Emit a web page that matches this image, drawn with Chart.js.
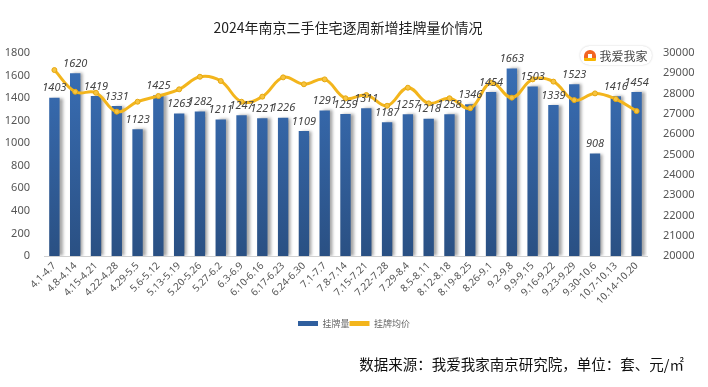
<!DOCTYPE html>
<html lang="zh-CN">
<head>
<meta charset="UTF-8">
<title>2024年南京二手住宅逐周新增挂牌量价情况</title>
<script src="https://cdn.jsdelivr.net/npm/chart.js"></script>
<style>
    body { margin: 0; background: #fff; font-family: "Noto Sans CJK SC", "Noto Sans", sans-serif; }
    .wrap { position: relative; width: 708px; height: 387px; }
    .titulo { position: absolute; left: -6px; top: 17px; width: 708px; text-align: center; font-size: 14px; color: #222; }
    .fonte { position: absolute; right: 24px; top: 353px; font-size: 14.5px; color: #111; }
    .logo { position: absolute; left: 580px; top: 46px; width: 72px; height: 19px; border-radius: 10px; box-sizing: border-box;
            background: #fff; box-shadow: 0 0 2px #ccc; display: flex; align-items: center; justify-content: center;
            font-size: 12px; color: #444; }
    .logo i { display: inline-block; width: 12px; height: 11px; border-radius: 6px 6px 1px 1px; background: #f26522;
              border-bottom: 3px solid #f7b500; box-sizing: border-box; margin-right: 3px; position: relative; }
    .logo i::after { content: ''; position: absolute; left: 4px; top: 4px; width: 4px; height: 4px; background: #fff; }
    canvas { position: absolute; left: 0; top: 0; }
</style>
</head>
<body>
<div class="wrap">
    <canvas id="grafico" width="708" height="387"></canvas>
    <div class="titulo">2024年南京二手住宅逐周新增挂牌量价情况</div>
    <div class="logo"><i></i>我爱我家</div>
    <div class="fonte">数据来源：我爱我家南京研究院，单位：套、元/㎡</div>
</div>

<script>
    // semanas
    const semanas = ['4.1-4.7', '4.8-4.14', '4.15-4.21', '4.22-4.28', '4.29-5.5', '5.6-5.12', '5.13-5.19', '5.20-5.26',
        '5.27-6.2', '6.3-6.9', '6.10-6.16', '6.17-6.23', '6.24-6.30', '7.1-7.7', '7.8-7.14', '7.15-7.21', '7.22-7.28',
        '7.29-8.4', '8.5-8.11', '8.12-8.18', '8.19-8.25', '8.26-9.1', '9.2-9.8', '9.9-9.15', '9.16-9.22', '9.23-9.29',
        '9.30-10.6', '10.7-10.13', '10.14-10.20'];

    // 挂牌量 (套)
    const guapaiLiang = [1403, 1620, 1419, 1331, 1123, 1425, 1263, 1282, 1211, 1247, 1221, 1226, 1109, 1291, 1259,
        1311, 1187, 1257, 1218, 1258, 1346, 1454, 1663, 1503, 1339, 1523, 908, 1416, 1454];

    // 挂牌均价 (元/㎡)
    const guapaiJunjia = [29160, 28090, 28040, 27110, 27600, 27880, 28210, 28830, 28620, 27600, 27850, 28800, 28460,
        28700, 27770, 27930, 27400, 28290, 27520, 27770, 27280, 28540, 27800, 28700, 28590, 27680, 28010, 27730, 27140];

    const ticksEsq = [0, 200, 400, 600, 800, 1000, 1200, 1400, 1600, 1800];
    const ticksDir = [20000, 21000, 22000, 23000, 24000, 25000, 26000, 27000, 28000, 29000, 30000];

    const corTexto = '#555';
    const fonteBase = '"Noto Sans", "Noto Sans CJK SC", sans-serif';

    function gradienteBarra(context) {
        const area = context.chart.chartArea;
        if (!area) return '#2f5f9e';
        const g = context.chart.ctx.createLinearGradient(0, area.top, 0, area.bottom);
        g.addColorStop(0, '#3a70b8');
        g.addColorStop(1, '#2a5083');
        return g;
    }

    // sombra nas barras
    const sombraBarras = {
        id: 'sombraBarras',
        beforeDatasetDraw(chart, args) {
            if (args.meta.type !== 'bar') return;
            const ctx = chart.ctx;
            ctx.save();
            ctx.shadowColor = 'rgba(0,0,0,0.35)';
            ctx.shadowBlur = 3;
            ctx.shadowOffsetX = 3;
            ctx.shadowOffsetY = 0;
        },
        afterDatasetDraw(chart, args) {
            if (args.meta.type !== 'bar') return;
            chart.ctx.restore();
        }
    };

    // rotulos em cima das barras
    const rotulosBarras = {
        id: 'rotulosBarras',
        afterDatasetsDraw(chart) {
            const ctx = chart.ctx;
            const meta = chart.getDatasetMeta(0);
            ctx.save();
            ctx.font = 'italic 11px ' + fonteBase;
            ctx.fillStyle = '#444';
            ctx.textAlign = 'center';
            ctx.textBaseline = 'bottom';
            meta.data.forEach((barra, i) => {
                ctx.fillText(guapaiLiang[i], barra.x, barra.y - 4);
            });
            ctx.restore();
        }
    };

    const config = {
        data: {
            labels: semanas,
            datasets: [{
                type: 'bar',
                label: '挂牌量',
                data: guapaiLiang,
                yAxisID: 'y',
                backgroundColor: gradienteBarra,
                barPercentage: 0.5,
                categoryPercentage: 1,
                order: 2
            }, {
                type: 'line',
                label: '挂牌均价',
                data: guapaiJunjia,
                yAxisID: 'y1',
                borderColor: '#f3b51c',
                backgroundColor: '#f3b51c',
                borderWidth: 3,
                tension: 0.4,
                pointRadius: 2.5,
                pointBackgroundColor: '#f7c440',
                pointBorderColor: '#e6a80f',
                pointBorderWidth: 1,
                order: 1
            }]
        },
        options: {
            responsive: false,
            animation: false,
            layout: { padding: { top: 53, left: 0, right: 0, bottom: 49 } },
            plugins: {
                tooltip: { enabled: false },
                legend: {
                    position: 'bottom',
                    labels: {
                        color: '#666',
                        font: { size: 9, family: '"Noto Sans CJK SC", sans-serif' },
                        boxWidth: 20,
                        boxHeight: 5,
                        padding: 0,
                        generateLabels(chart) {
                            return chart.data.datasets.map((ds, i) => ({
                                text: ds.label,
                                fillStyle: i === 0 ? '#2f5f9e' : '#f3b51c',
                                strokeStyle: i === 0 ? '#2f5f9e' : '#f3b51c',
                                lineWidth: 0,
                                fontColor: '#666',
                                datasetIndex: i
                            }));
                        }
                    }
                }
            },
            scales: {
                x: {
                    grid: { display: false, drawTicks: false },
                    border: { color: '#d0d0d0' },
                    ticks: {
                        color: corTexto,
                        font: { size: 10, family: fonteBase },
                        maxRotation: 45,
                        minRotation: 45,
                        autoSkip: false,
                        padding: 4
                    },
                    afterFit(scale) { scale.height = 63; }
                },
                y: {
                    position: 'left',
                    min: 0,
                    max: 1800,
                    grid: { display: false },
                    border: { display: false },
                    afterBuildTicks(scale) { scale.ticks = ticksEsq.map(v => ({ value: v })); },
                    ticks: { color: corTexto, font: { size: 11, family: fonteBase }, padding: 6, callback: v => String(v) },
                    afterFit(scale) { scale.width = 44; }
                },
                y1: {
                    position: 'right',
                    min: 20000,
                    max: 30000,
                    grid: { display: false },
                    border: { display: false },
                    afterBuildTicks(scale) { scale.ticks = ticksDir.map(v => ({ value: v })); },
                    ticks: { color: corTexto, font: { size: 11, family: fonteBase }, padding: 8, callback: v => String(v) },
                    afterFit(scale) { scale.width = 61; }
                }
            }
        },
        plugins: [sombraBarras, rotulosBarras]
    };

    new Chart(document.getElementById('grafico'), config);
</script>
</body>
</html>
